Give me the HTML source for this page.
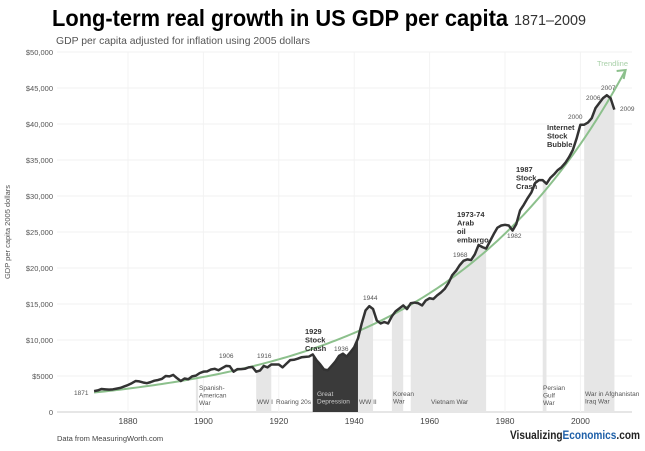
<!DOCTYPE html>
<html><head><meta charset="utf-8"><style>
body{margin:0;background:#fff;font-family:"Liberation Sans",sans-serif}
svg text{font-family:"Liberation Sans",sans-serif}
</style></head><body>
<svg id="c" width="645" height="446" viewBox="0 0 645 446" xmlns="http://www.w3.org/2000/svg">
<text x="52" y="26" font-size="23" font-weight="bold" fill="#000" textLength="456" lengthAdjust="spacingAndGlyphs">Long-term real growth in US GDP per capita</text>
<text x="514" y="25" font-size="15" fill="#333" textLength="72" lengthAdjust="spacingAndGlyphs">1871–2009</text>
<text x="56" y="44" font-size="10.5" fill="#555" textLength="254" lengthAdjust="spacingAndGlyphs">GDP per capita adjusted for inflation using 2005 dollars</text>
<text transform="translate(10,232) rotate(-90)" text-anchor="middle" font-size="7.5" fill="#555">GDP per capita 2005 dollars</text>
<g id="grid"></g><g id="bands"></g><g id="series"></g><g id="labels"></g>
<text x="57" y="441" font-size="7.5" fill="#444">Data from MeasuringWorth.com</text>
<text x="510" y="439" font-size="12" font-weight="bold" fill="#222" textLength="130" lengthAdjust="spacingAndGlyphs">Visualizing<tspan fill="#1d5fa8">Economics</tspan>.com</text>
</svg>
<script>
const years=[1871,1872,1873,1874,1875,1876,1877,1878,1879,1880,1881,1882,1883,1884,1885,1886,1887,1888,1889,1890,1891,1892,1893,1894,1895,1896,1897,1898,1899,1900,1901,1902,1903,1904,1905,1906,1907,1908,1909,1910,1911,1912,1913,1914,1915,1916,1917,1918,1919,1920,1921,1922,1923,1924,1925,1926,1927,1928,1929,1930,1931,1932,1933,1934,1935,1936,1937,1938,1939,1940,1941,1942,1943,1944,1945,1946,1947,1948,1949,1950,1951,1952,1953,1954,1955,1956,1957,1958,1959,1960,1961,1962,1963,1964,1965,1966,1967,1968,1969,1970,1971,1972,1973,1974,1975,1976,1977,1978,1979,1980,1981,1982,1983,1984,1985,1986,1987,1988,1989,1990,1991,1992,1993,1994,1995,1996,1997,1998,1999,2000,2001,2002,2003,2004,2005,2006,2007,2008,2009];
const gdp=[2900,3000,3200,3150,3100,3150,3250,3350,3550,3750,4000,4300,4250,4100,4000,4150,4350,4450,4600,5000,4950,5150,4700,4300,4650,4550,4950,5050,5400,5600,5650,5900,6000,5800,6100,6400,6350,5600,5950,5950,6000,6200,6250,5600,5750,6400,6200,6600,6600,6600,6200,6700,7200,7250,7400,7600,7650,7700,8000,7200,6600,5900,5800,6400,7000,7800,8100,7700,8300,9000,10200,12300,14100,14700,14300,12700,12300,12500,12300,13300,14000,14400,14800,14300,15100,15200,15100,14800,15500,15800,15700,16200,16600,17100,17900,19000,19600,20400,21000,21200,21100,21900,23200,22900,22700,23700,24700,25600,25900,26000,25900,25200,26100,28000,28800,29700,30500,31800,32200,32200,31700,32500,33000,33600,34000,34600,35400,36400,38000,39900,39900,40200,40800,42200,42900,43600,44000,43600,42000];
const yTicks=[0,5000,10000,15000,20000,25000,30000,35000,40000,45000,50000];
const yTickLabels=["0","$5000","$10,000","$15,000","$20,000","$25,000","$30,000","$35,000","$40,000","$45,000","$50,000"];
const xTicks=[1880,1900,1920,1940,1960,1980,2000];
const trendStart=[1871,2700];
const trendEnd=[2012,47500];
const bandStart=[1898,1914,1941,1950,1955,1990,2001,2003];
const bandEnd=[1898.6,1918,1945,1953,1975,1991,2009,2009];
const bandNames=["spanish-american-war","wwi","wwii","korean-war","vietnam-war","persian-gulf-war","war-in-afghanistan","iraq-war"];
const depression=[1929,1941];
const X=y=>128+(y-1880)*3.77;
const Y=v=>412-v*0.0072;
const NS="http://www.w3.org/2000/svg";
function mk(parent,tag,at){const e=document.createElementNS(NS,tag);for(const k in at)e.setAttribute(k,at[k]);document.getElementById(parent).appendChild(e);return e;}
function valAt(yr){for(let i=0;i<years.length-1;i++){if(yr>=years[i]&&yr<=years[i+1]){const t=(yr-years[i])/(years[i+1]-years[i]);return gdp[i]+(gdp[i+1]-gdp[i])*t;}}return gdp[gdp.length-1];}
function area(a,b){let d=`M${X(a)},${Y(0)}`;const pts=[a];years.forEach(y=>{if(y>a&&y<b)pts.push(y)});pts.push(b);pts.forEach(y=>d+=` L${X(y)},${Y(valAt(y))}`);return d+` L${X(b)},${Y(0)}Z`;}
yTicks.forEach((v,i)=>{
 const l=mk('grid','line',{x1:57,x2:632,y1:Y(v),y2:Y(v),stroke:i==0?'#ccc':'#f0f0f0','stroke-width':1});
 
 
 const t=mk('grid','text',{x:53,y:Y(v)+3,'text-anchor':'end','font-size':7.5,fill:'#555'});
 t.textContent=yTickLabels[i];
 
 
});
xTicks.forEach(v=>{
 const l=mk('grid','line',{x1:X(v),x2:X(v),y1:52,y2:412,stroke:'#f3f3f3','stroke-width':1});
 
 
 const t=mk('grid','text',{x:X(v),y:424,'text-anchor':'middle','font-size':8.5,fill:'#444'});
 t.textContent=v;
 
 
});
bandStart.forEach((s,i)=>{
 const p=mk('bands','path',{d:area(s,bandEnd[i]),fill:'#e6e6e6'});
 
 
});
const dp=mk('bands','path',{d:area(depression[0],depression[1]),fill:'#3a3a3a'});


let td='';const k=Math.log(trendEnd[1]/trendStart[1])/(trendEnd[0]-trendStart[0]);
for(let y=trendStart[0];y<=trendEnd[0];y+=1)td+=(td?' L':'M')+X(y)+','+Y(trendStart[1]*Math.exp(k*(y-trendStart[0])));
const tl=mk('series','path',{d:td,fill:'none',stroke:'#8cc08c','stroke-width':2});


const ex=X(trendEnd[0]),ey=Y(trendEnd[1]);
const ah=mk('series','path',{d:`M${ex-9},${ey+1} L${ex},${ey} L${ex-2},${ey+9}`,fill:'none',stroke:'#8cc08c','stroke-width':2});


const gl=mk('series','path',{d:years.map((y,i)=>(i?'L':'M')+X(y)+','+Y(gdp[i])).join(' '),fill:'none',stroke:'#333','stroke-width':2.5,'stroke-linejoin':'round'});


const labs=[
 ["Trendline",597,66,7.5,'#a8d0a8','normal','trendline-label'],
 ["1871",74,395,6.5,'#555','normal','label-1871'],
 ["1906",219,358,6.5,'#555','normal','label-1906'],
 ["1916",257,358,6.5,'#555','normal','label-1916'],
 ["1936",334,351,6.5,'#555','normal','label-1936'],
 ["1944",363,300,6.5,'#555','normal','label-1944'],
 ["1968",453,257,6.5,'#555','normal','label-1968'],
 ["1982",507,238,6.5,'#555','normal','label-1982'],
 ["2000",568,119,6.5,'#555','normal','label-2000'],
 ["2006",586,100,6.5,'#555','normal','label-2006'],
 ["2007",601,90,6.5,'#555','normal','label-2007'],
 ["2009",620,111,6.5,'#555','normal','label-2009'],
 ["WW I",257,404,6.5,'#555','normal','label-wwi'],
 ["Roaring 20s",276,404,6.5,'#555','normal','label-roaring-20s'],
 ["WW II",359,404,6.5,'#555','normal','label-wwii'],
 ["Vietnam War",431,404,6.5,'#555','normal','label-vietnam']];
labs.forEach(a=>{const t=mk('labels','text',{x:a[1],y:a[2],'font-size':a[3],fill:a[4],'font-weight':a[5]});t.textContent=a[0];
 
 });
const multi=[
 [["Spanish-","American","War"],199,390,6.5,'#555','normal','label-spanish-american-war'],
 [["Great","Depression"],317,396,6.5,'#ccc','normal','label-great-depression'],
 [["Korean","War"],393,396,6.5,'#555','normal','label-korean-war'],
 [["Persian","Gulf","War"],543,390,6.5,'#555','normal','label-persian-gulf-war'],
 [["War in Afghanistan","Iraq War"],585,396,6.5,'#555','normal','label-afghanistan-iraq'],
 [["1929","Stock","Crash"],305,334,7.5,'#333','bold','annot-1929-crash'],
 [["1973-74","Arab","oil","embargo"],457,217,7.5,'#333','bold','annot-oil-embargo'],
 [["1987","Stock","Crash"],516,172,7.5,'#333','bold','annot-1987-crash'],
 [["Internet","Stock","Bubble"],547,130,7.5,'#333','bold','annot-internet-bubble']];
multi.forEach(a=>{const t=mk('labels','text',{x:a[1],y:a[2],'font-size':a[3],fill:a[4],'font-weight':a[5]});
 a[0].forEach((s,i)=>{const ts=document.createElementNS(NS,'tspan');ts.setAttribute('x',a[1]);ts.setAttribute('dy',i?a[3]+1:0);ts.textContent=s;t.appendChild(ts);});
 
 });
</script>
</body></html>
